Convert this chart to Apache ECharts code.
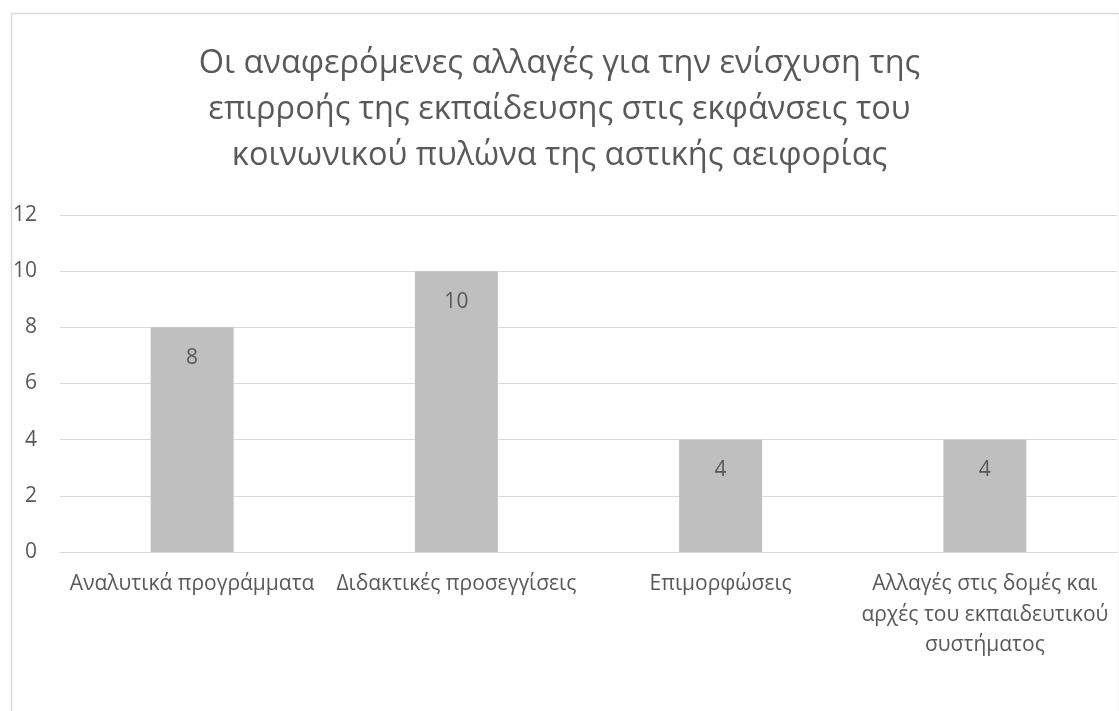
<!DOCTYPE html>
<html>
<head>
<meta charset="utf-8">
<script src="https://cdn.jsdelivr.net/npm/echarts@6/dist/echarts.min.js"></script>
<style>
html,body{margin:0;padding:0;background:#fff;}
#chart{width:1119px;height:711px;}
</style>
</head>
<body>
<div id="chart"></div>
<script>
const titleText = 'Οι αναφερόμενες αλλαγές για την ενίσχυση της\nεπιρροής της εκπαίδευσης στις εκφάνσεις του\nκοινωνικού πυλώνα της αστικής αειφορίας';
const categories = ['Αναλυτικά προγράμματα', 'Διδακτικές προσεγγίσεις', 'Επιμορφώσεις', 'Αλλαγές στις δομές και\nαρχές του εκπαιδευτικού\nσυστήματος'];
const values = [8, 10, 4, 4];
const yTicks = [0, 2, 4, 6, 8, 10, 12];

const FONT = '"Open Sans", "Noto Sans", sans-serif';
const TXT = '#595959';

const chart = echarts.init(document.getElementById('chart'), null, {renderer: 'canvas'});
chart.setOption({
  backgroundColor: '#ffffff',
  animation: false,
  graphic: [{
    type: 'rect',
    left: 9, top: 11,
    shape: {width: 1108, height: 760},
    style: {fill: 'none', stroke: '#d9d9d9', lineWidth: 1.5},
    silent: true, z: 0
  }],
  title: {
    text: titleText,
    left: 'center',
    top: 36,
    padding: [5, 5, 5, 12],
    textStyle: {fontFamily: FONT, fontSize: 32.5, fontWeight: 'normal', color: TXT, lineHeight: 46}
  },
  grid: {left: 60, right: 2, top: 215, bottom: 159, containLabel: false},
  xAxis: {
    type: 'category',
    data: categories,
    axisLine: {show: true, lineStyle: {color: '#d9d9d9', width: 1}},
    axisTick: {show: false},
    axisLabel: {fontFamily: FONT, fontSize: 21, color: TXT, margin: 17, lineHeight: 30.5, interval: 0}
  },
  yAxis: {
    type: 'value',
    min: yTicks[0], max: yTicks[yTicks.length - 1], interval: 2,
    axisLine: {show: false},
    axisTick: {show: false},
    splitLine: {lineStyle: {color: '#d9d9d9', width: 1}},
    axisLabel: {fontFamily: FONT, fontSize: 21, color: TXT, margin: 23}
  },
  series: [{
    type: 'bar',
    data: values,
    barWidth: '31.4%',
    itemStyle: {color: '#bfbfbf'},
    label: {show: true, position: 'insideTop', distance: 20, fontFamily: FONT, fontSize: 21, color: TXT}
  }]
});
</script>
</body>
</html>
